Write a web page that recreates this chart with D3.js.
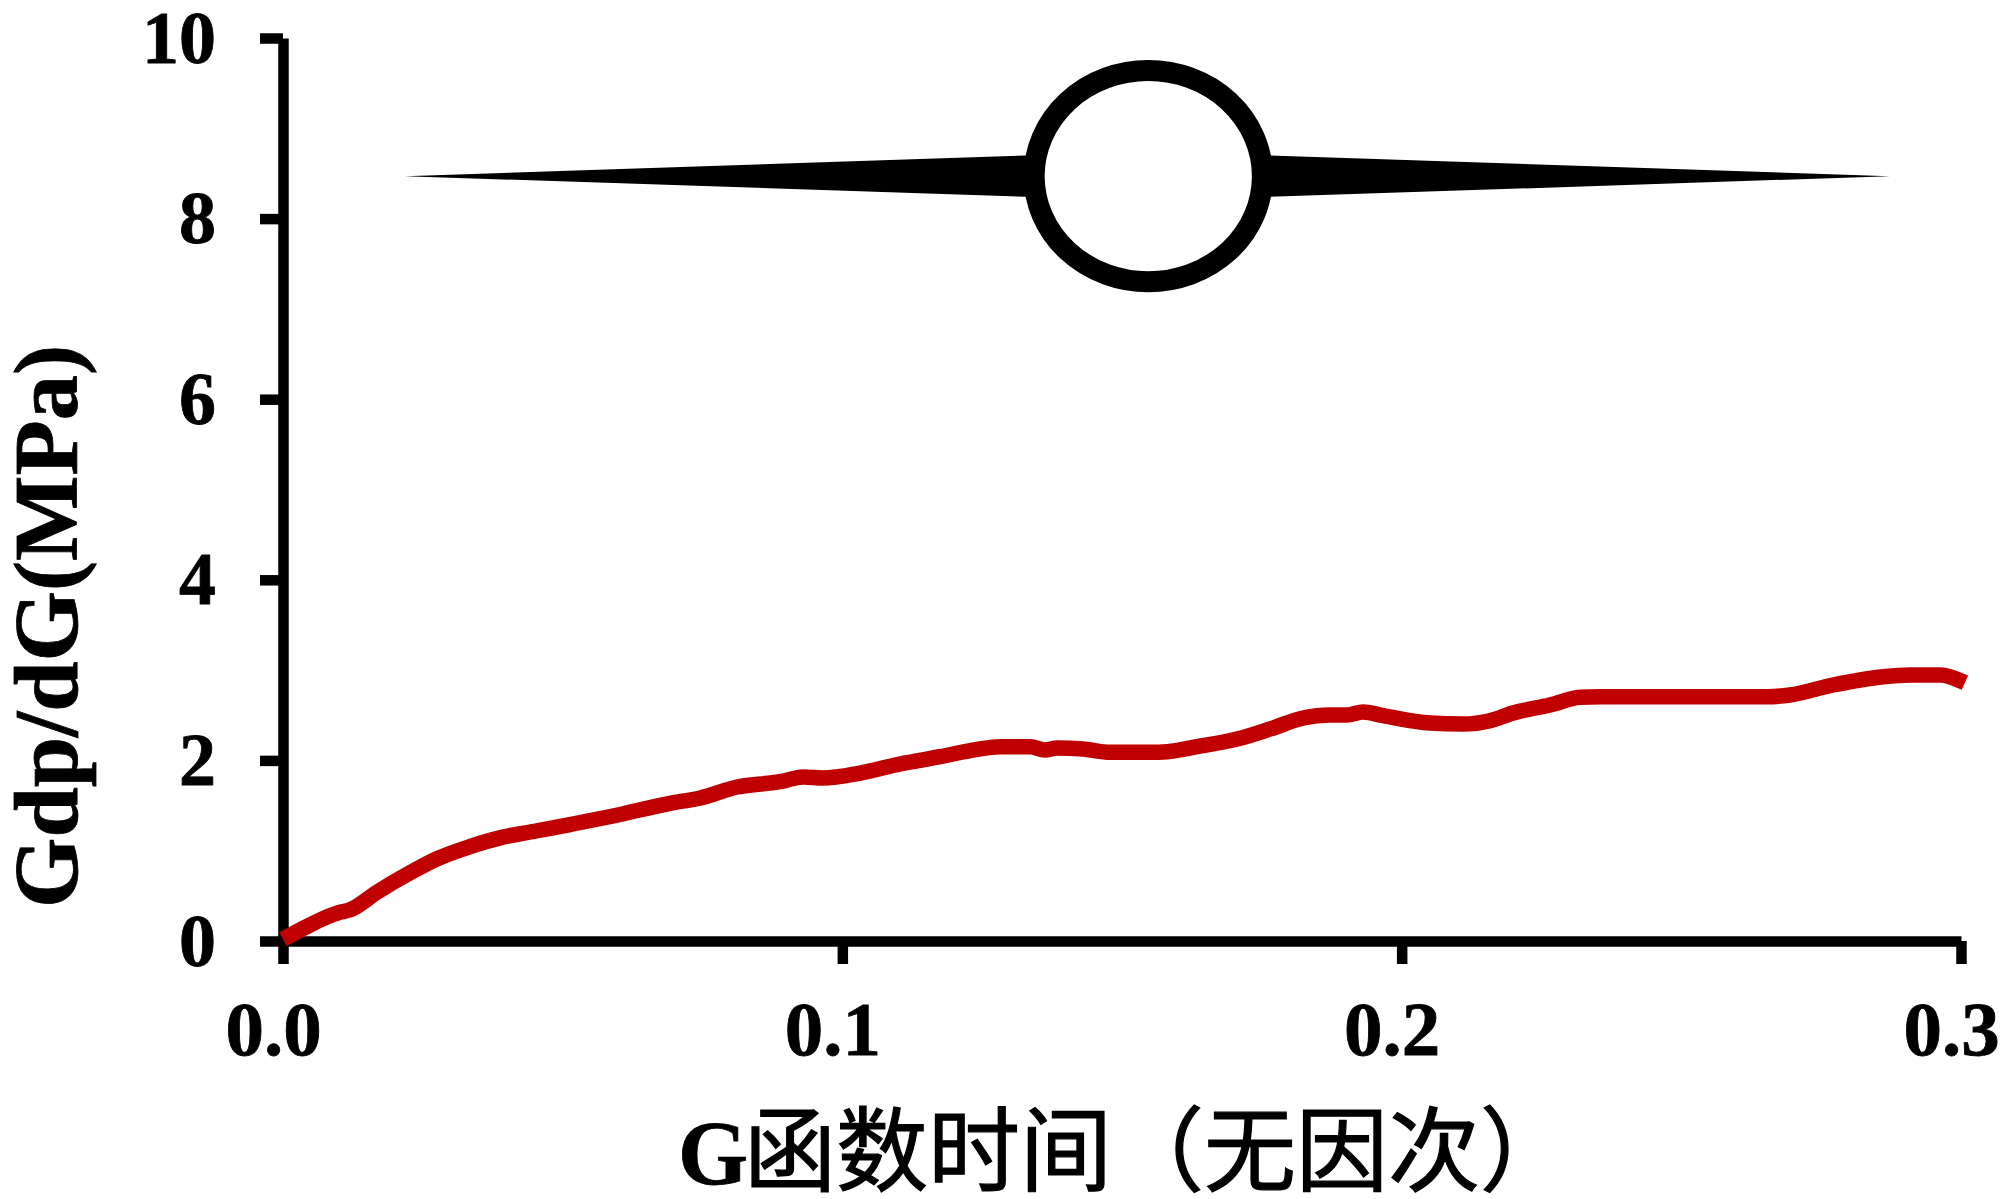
<!DOCTYPE html>
<html>
<head>
<meta charset="utf-8">
<script src="https://cdn.jsdelivr.net/npm/d3@7/dist/d3.min.js"></script>
<style>
    html, body { margin: 0; padding: 0; background: #fff; }
    svg { display: block; }
    text { font-family: "Liberation Serif", serif; font-weight: bold; fill: #000; stroke: #000; stroke-width: 0.8px; }
</style>
</head>
<body>
<div id="chart"></div>
<script>
const timeValues = [0, 0.0042, 0.008, 0.0097, 0.012, 0.0168, 0.0227, 0.0275, 0.0334, 0.0393, 0.0454, 0.0513,
    0.059, 0.0692, 0.0746, 0.0812, 0.0889, 0.093, 0.0965, 0.1032, 0.1103, 0.1175, 0.1241, 0.1282, 0.1336,
    0.1362, 0.1384, 0.143, 0.1479, 0.155, 0.1581, 0.1634, 0.1706, 0.1765, 0.1824, 0.1872, 0.1902, 0.1931,
    0.1967, 0.2051, 0.211, 0.2158, 0.2199, 0.2265, 0.2319, 0.2355, 0.2653, 0.2694, 0.2771, 0.2861, 0.2909,
    0.2963, 0.2981, 0.3007];
const gdpValues = [0.02, 0.158, 0.27, 0.31, 0.345, 0.54, 0.755, 0.91, 1.045, 1.15, 1.221, 1.29,
    1.384, 1.525, 1.584, 1.705, 1.764, 1.816, 1.805, 1.86, 1.96, 2.041, 2.123, 2.152, 2.152,
    2.115, 2.137, 2.126, 2.09, 2.09, 2.096, 2.152, 2.237, 2.348, 2.47, 2.503, 2.503, 2.536,
    2.495, 2.414, 2.403, 2.44, 2.525, 2.613, 2.699, 2.705, 2.705, 2.724, 2.835, 2.927, 2.946,
    2.946, 2.924, 2.861];
const xTicks = [0, 0.1, 0.2, 0.3];
const yTicks = [0, 2, 4, 6, 8, 10];
const xTitle = ['G', '函数时间（无因次）'];
const yTitle = 'Gdp/dG(MPa)';

const width = 2000;
const height = 1199;

const xScale = d3.scaleLinear().domain([0, 0.3]).range([283, 1961]);
const yScale = d3.scaleLinear().domain([0, 10]).range([941, 38]);

const svg = d3.select('#chart')
    .append('svg')
    .attr('width', width)
    .attr('height', height);

const xAxis = d3.axisBottom(xScale)
    .tickValues(xTicks)
    .tickFormat(d3.format('.1f'))
    .tickSizeInner(23)
    .tickSizeOuter(0);

const yAxis = d3.axisLeft(yScale)
    .tickValues(yTicks)
    .tickFormat(d3.format('d'))
    .tickSizeInner(23)
    .tickSizeOuter(0);

const xGroup = svg.append('g')
    .attr('transform', `translate(0, ${yScale(0)})`)
    .call(xAxis);

const yGroup = svg.append('g')
    .attr('transform', `translate(${xScale(0)}, 0)`)
    .call(yAxis);

[xGroup, yGroup].forEach(g => {
    g.select('.domain').attr('stroke', '#000').attr('stroke-width', 10.5);
    g.selectAll('.tick line').attr('stroke', '#000').attr('stroke-width', 10.5);
});

// labels sit a bit left of their ticks in the original
xGroup.selectAll('.tick text')
    .attr('font-size', 77)
    .attr('font-family', '"Liberation Serif", serif')
    .attr('text-anchor', 'middle')
    .attr('dy', null)
    .attr('x', -10)
    .attr('y', 114);

yGroup.selectAll('.tick text')
    .attr('font-size', 74)
    .attr('font-family', '"Liberation Serif", serif')
    .attr('text-anchor', 'end')
    .attr('dy', null)
    .attr('x', -67)
    .attr('y', 24);

// sphere-between-needles glyph, placed in data units
const glyphX = 0.1547;
const glyphY = 8.47;
const glyphRx = 0.0204;    // centre of the ring stroke
const glyphRy = 1.17;
const tipLeft = 0.0218;
const tipRight = 0.2873;
const wingHalf = 0.232;

const gx = xScale(glyphX);
const gy = yScale(glyphY);
const ringRx = xScale(glyphRx) - xScale(0);
const ringRy = yScale(0) - yScale(glyphRy);
const wingH = yScale(0) - yScale(wingHalf);

[tipLeft, tipRight].forEach(tip => {
    const edge = tip < glyphX ? gx - ringRx : gx + ringRx;
    const path = d3.path();
    path.moveTo(xScale(tip), gy);
    path.lineTo(edge, gy - wingH);
    path.lineTo(edge, gy + wingH);
    path.closePath();
    svg.append('path').attr('d', path.toString()).attr('fill', '#000');
});

svg.append('ellipse')
    .attr('cx', gx)
    .attr('cy', gy)
    .attr('rx', ringRx)
    .attr('ry', ringRy)
    .attr('fill', '#fff')
    .attr('stroke', '#000')
    .attr('stroke-width', 21);

const line = d3.line()
    .x(d => xScale(d[0]))
    .y(d => yScale(d[1]))
    .curve(d3.curveMonotoneX);

svg.append('path')
    .datum(d3.zip(timeValues, gdpValues))
    .attr('d', line)
    .attr('fill', 'none')
    .attr('stroke', '#c00000')
    .attr('stroke-width', 15.5)
    .attr('stroke-linejoin', 'round');

//Add axis titles
const xLabel = svg.append('text')
    .attr('y', 1184)
    .attr('font-size', 90);

xLabel.append('tspan')
    .attr('x', 678)
    .text(xTitle[0]);

xLabel.append('tspan')
    .attr('x', 744)
    .attr('font-size', 92)
    .style('font-family', '"Noto Sans CJK SC", sans-serif')
    .style('font-weight', 'normal')
    .style('stroke-width', '1.2px')
    .text(xTitle[1]);

svg.append('text')
    .attr('transform', 'translate(77, 908) rotate(-90)')
    .attr('font-size', 90.5)
    .text(yTitle);
</script>
</body>
</html>
